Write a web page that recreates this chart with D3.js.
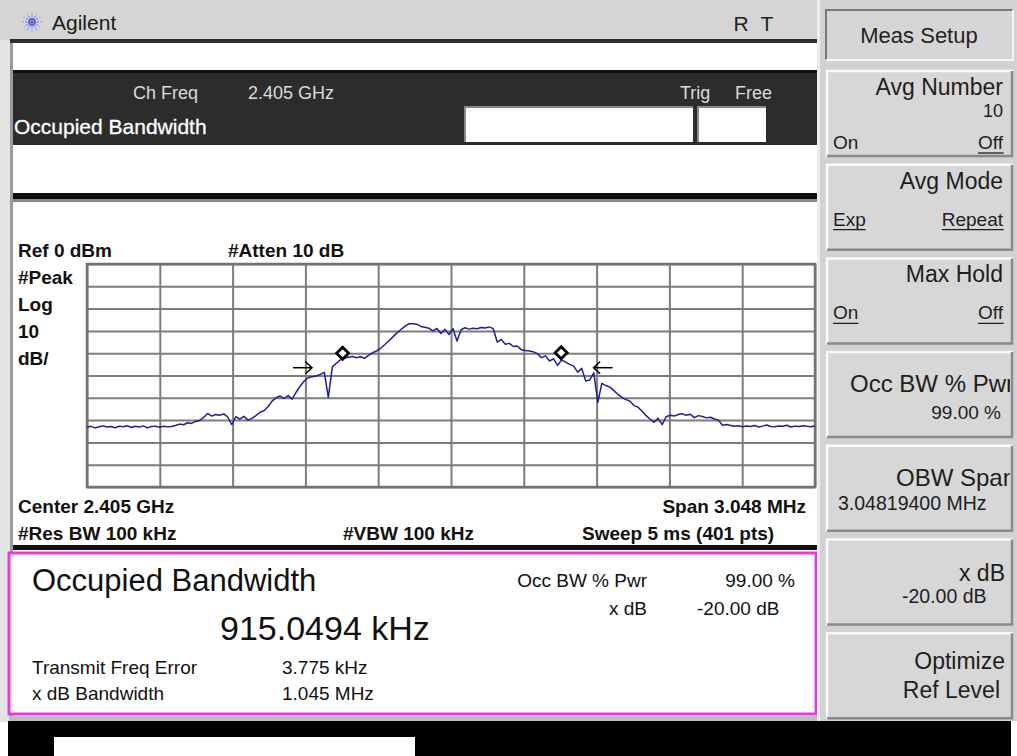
<!DOCTYPE html>
<html><head><meta charset="utf-8">
<script src="https://cdn.jsdelivr.net/npm/d3@7"></script>
<style>
html,body{margin:0;padding:0;background:#fff;overflow:hidden}
svg{display:block}
text{font-family:"Liberation Sans",Arial,sans-serif}
</style></head><body>
<svg id="c" width="1017" height="756"></svg>
<script>
// ---------------- data ----------------
const centerFreqGHz = 2.405;
const spanMHz = 3.048;
const refLevelDbm = 0;
const dbPerDiv = 10;
const numDivX = 10;
const numDivY = 10;

// trace (dBm), evenly spaced across the span
const traceDbm = [
 -73.2,-72.8,-73.5,-73.0,-72.6,-73.1,-72.9,-73.4,-72.7,-73.0,-72.5,-73.3,-72.8,-73.1,-72.6,-73.5,-72.9,-72.7,-73.2,-72.8,-73.0,
 -72.9,-72.4,-71.8,-72.1,-71.2,-71.5,-70.6,-70.2,-68.8,-67.0,-68.2,-67.5,-67.8,-67.2,-68.6,-72.0,-68.5,-69.6,-68.3,-70.0,
 -69.2,-68.0,-66.5,-65.8,-64.0,-61.5,-60.0,-59.2,-60.3,-59.0,-60.6,-57.5,-54.8,-52.5,-51.0,-50.6,-50.2,-49.5,-48.6,
 -59.8,-46.0,-44.5,-43.0,-42.2,-41.8,-41.5,-42.0,-41.6,-42.3,-41.0,-39.8,-39.0,-37.8,-36.2,-34.5,-32.8,-31.0,-29.5,-28.0,
 -26.8,-26.8,-27.0,-28.0,-28.4,-28.8,-30.0,-28.9,-31.2,-29.3,-31.6,-29.0,-34.5,-29.5,-28.6,-29.2,-28.8,-29.0,-28.5,-28.7,
 -28.2,-29.0,
 -35.0,-33.8,-36.0,-35.6,-37.0,-36.8,-38.5,-38.8,-39.0,-39.4,
 -40.2,-42.0,-41.2,-43.5,-42.5,-45.5,-43.0,-44.0,-45.0,-45.8,
 -48.5,-46.8,-52.5,-52.0,-48.8,-62.0,-53.5,-54.5,-55.2,-56.8,
 -58.5,-59.8,-60.8,-61.5,-63.5,-64.2,-66.0,-68.0,-69.5,-71.0,
 -69.2,-72.0,-68.5,-67.8,-68.2,-67.5,-67.2,-67.8,-67.4,-68.9,
 -68.0,-68.4,-69.0,-68.7,-69.5,-70.0,-72.3,-72.0,-72.4,
 -72.8,-72.5,-73.0,-72.6,-72.9,-72.4,-73.1,-72.7,-72.2,-72.9,-73.0,-72.6,-72.8,-72.3,-73.1,-72.7,-72.9,-72.5,-72.8,-73.0,-72.6
];

// OBW markers (diamonds) and x dB points (arrows), offsets from center in MHz
const obwMarkerFreqMHz = [-0.4537, 0.4613];
const obwMarkerDbm = [-40, -39.8];
const xdbArrowFreqMHz = [-0.582, 0.597];
const xdbArrowDbm = [-46.5, -46.5];

// annotation texts
const plotTopLabels = ["Ref 0 dBm", "#Atten 10 dB"];
const plotLeftLabels = ["#Peak", "Log", "10", "dB/"];
const plotBottomRow1 = ["Center 2.405 GHz", "Span 3.048 MHz"];
const plotBottomRow2 = ["#Res BW 100 kHz", "#VBW 100 kHz", "Sweep 5 ms (401 pts)"];

const headerRow1 = ["Ch Freq", "2.405 GHz", "Trig", "Free"];
const headerTitle = "Occupied Bandwidth";

const resultTitle = "Occupied Bandwidth";
const resultValue = "915.0494 kHz";
const resultParamNames = ["Occ BW % Pwr", "x dB"];
const resultParamValues = ["99.00 %", "-20.00 dB"];
const resultExtraNames = ["Transmit Freq Error", "x dB Bandwidth"];
const resultExtraValues = ["3.775 kHz", "1.045 MHz"];

const menuTitle = "Meas Setup";
const softkeyTitles = [["Avg Number"], ["Avg Mode"], ["Max Hold"], ["Occ BW % Pwr"], ["OBW Span"], ["x dB"], ["Optimize", "Ref Level"]];
const softkeyValues = ["10", "", "", "99.00 %", "3.04819400 MHz", "-20.00 dB", ""];
const softkeyLeft = ["On", "Exp", "On", "", "", "", ""];
const softkeyRight = ["Off", "Repeat", "Off", "", "", "", ""];
const softkeyLeftUnderlined = [false, true, true, false, false, false, false];
const softkeyRightUnderlined = [true, true, true, false, false, false, false];

// ---------------- drawing ----------------
const svg = d3.select("#c");

function txt(g, s, x, y, size, opts = {}) {
  return g.append("text").attr("x", x).attr("y", y).text(s)
    .attr("font-size", size)
    .attr("font-weight", opts.bold ? "bold" : "normal")
    .attr("fill", opts.fill || "#111")
    .attr("text-anchor", opts.anchor || "start");
}

// backgrounds
svg.append("rect").attr("width", 1017).attr("height", 756).attr("fill", "#ffffff");
svg.append("rect").attr("x", 0).attr("y", 0).attr("width", 11).attr("height", 722).attr("fill", "#e4e4e4");
svg.append("rect").attr("x", 10).attr("y", 40).attr("width", 3).attr("height", 680).attr("fill", "#9a9a9a");

// top title bar
svg.append("rect").attr("x", 0).attr("y", 0).attr("width", 820).attr("height", 40).attr("fill", "#d5d5d5");
svg.append("rect").attr("x", 10).attr("y", 39).attr("width", 810).attr("height", 4).attr("fill", "#2e2e2e");
const logo = svg.append("g").attr("transform", "translate(32,22)");
d3.range(12).forEach(k => {
  const a = k * Math.PI / 6;
  [3, 6, 9].forEach((r, j) => {
    logo.append("circle").attr("cx", r * Math.cos(a)).attr("cy", r * Math.sin(a))
      .attr("r", 1.3 - j * 0.25).attr("fill", j === 0 ? "#6a6ad8" : "#9a9ae8");
  });
});
logo.append("circle").attr("r", 1.6).attr("fill", "#5a5ad0");
txt(svg, "Agilent", 52, 30, 21, { fill: "#1a1a1a" });
txt(svg, "R", 741, 31, 21, { fill: "#222", anchor: "middle" });
txt(svg, "T", 767, 31, 21, { fill: "#222", anchor: "middle" });

// dark header band
svg.append("rect").attr("x", 13).attr("y", 71).attr("width", 806).attr("height", 74).attr("fill", "#2c2c2c");
svg.append("rect").attr("x", 13).attr("y", 70).attr("width", 806).attr("height", 3).attr("fill", "#111");
txt(svg, headerRow1[0], 198, 99, 18, { fill: "#dcdcdc", anchor: "end" });
txt(svg, headerRow1[1], 248, 99, 18, { fill: "#dcdcdc" });
txt(svg, headerRow1[2], 680, 99, 18, { fill: "#dcdcdc" });
txt(svg, headerRow1[3], 735, 99, 18, { fill: "#dcdcdc" });
txt(svg, headerTitle, 14, 134, 21, { fill: "#ffffff" }).attr("stroke", "#ffffff").attr("stroke-width", 0.3);
[[464, 229], [697, 69]].forEach(([bx, bw]) => {
  svg.append("rect").attr("x", bx).attr("y", 106).attr("width", bw).attr("height", 36).attr("fill", "#888");
  svg.append("rect").attr("x", bx + 2).attr("y", 108).attr("width", bw - 2).attr("height", 34).attr("fill", "#ffffff");
});

svg.append("rect").attr("x", 13).attr("y", 193).attr("width", 806).attr("height", 6).attr("fill", "#0c0c0c");
svg.append("rect").attr("x", 13).attr("y", 199).attr("width", 806).attr("height", 3).attr("fill", "#8a8a8a");

// ---- plot ----
const PL = 87, PR = 815, PT = 264, PB = 487;
const x = d3.scaleLinear().domain([-spanMHz / 2, spanMHz / 2]).range([PL, PR]);
const y = d3.scaleLinear().domain([refLevelDbm - dbPerDiv * numDivY, refLevelDbm]).range([PB, PT]);

const xTicks = d3.range(numDivX + 1).map(i => -spanMHz / 2 + i * spanMHz / numDivX);
const yTicks = d3.range(numDivY + 1).map(i => refLevelDbm - dbPerDiv * numDivY + i * dbPerDiv);

const gridX = svg.append("g").attr("transform", `translate(0,${PB})`)
  .call(d3.axisBottom(x).tickValues(xTicks).tickSize(-(PB - PT)).tickFormat(""));
const gridY = svg.append("g").attr("transform", `translate(${PL},0)`)
  .call(d3.axisLeft(y).tickValues(yTicks).tickSize(-(PR - PL)).tickFormat(""));
[gridX, gridY].forEach(g => {
  g.select(".domain").remove();
  g.selectAll(".tick line").attr("stroke", "#7c7c7c").attr("stroke-width", 2);
});
svg.append("rect").attr("x", PL).attr("y", PT).attr("width", PR - PL).attr("height", PB - PT)
  .attr("fill", "none").attr("stroke", "#727272").attr("stroke-width", 2.5);

const freqs = traceDbm.map((d, i) => -spanMHz / 2 + i * spanMHz / (traceDbm.length - 1));
svg.append("path").datum(traceDbm)
  .attr("d", d3.line().x((d, i) => x(freqs[i])).y(d => y(d)))
  .attr("fill", "none").attr("stroke", "#1f1f96").attr("stroke-width", 1.5).attr("stroke-linejoin", "round");

// diamonds
svg.selectAll(".mk").data(obwMarkerFreqMHz).enter().append("path")
  .attr("transform", (d, i) => `translate(${x(d)},${y(obwMarkerDbm[i])}) rotate(45)`)
  .attr("d", d3.symbol(d3.symbolSquare, 72))
  .attr("fill", "#fff").attr("stroke", "#000").attr("stroke-width", 2.8);

// arrows
xdbArrowFreqMHz.forEach((f, i) => {
  const tx = x(f), ty = y(xdbArrowDbm[i]);
  const dir = i === 0 ? -1 : 1;
  const g = svg.append("g").attr("stroke", "#000").attr("stroke-width", 1.5).attr("fill", "none");
  g.append("line").attr("x1", tx).attr("y1", ty).attr("x2", tx + dir * 19).attr("y2", ty);
  g.append("path").attr("d", `M${tx + dir * 6.5},${ty - 6} L${tx},${ty} L${tx + dir * 6.5},${ty + 6}`);
});

// plot labels
txt(svg, plotTopLabels[0], 18, 257, 19, { bold: true });
txt(svg, plotTopLabels[1], 228, 257, 19, { bold: true });
plotLeftLabels.forEach((s, i) => txt(svg, s, 18, 284 + i * 27, 19, { bold: true }));
txt(svg, plotBottomRow1[0], 18, 513, 19, { bold: true });
txt(svg, plotBottomRow1[1], 806, 513, 19, { bold: true, anchor: "end" });
txt(svg, plotBottomRow2[0], 18, 540, 19, { bold: true });
txt(svg, plotBottomRow2[1], 343, 540, 19, { bold: true });
txt(svg, plotBottomRow2[2], 582, 540, 19, { bold: true });

svg.append("rect").attr("x", 13).attr("y", 545).attr("width", 806).attr("height", 5).attr("fill", "#111");

// results box
svg.append("rect").attr("x", 9).attr("y", 553).attr("width", 807).attr("height", 161)
  .attr("fill", "#fff").attr("stroke", "#e23be2").attr("stroke-width", 3);
txt(svg, resultTitle, 32, 591, 31);
txt(svg, resultValue, 220, 640, 34);
txt(svg, resultParamNames[0], 647, 587, 19, { anchor: "end" });
txt(svg, resultParamValues[0], 795, 587, 19, { anchor: "end" });
txt(svg, resultParamNames[1], 647, 615, 19, { anchor: "end" });
txt(svg, resultParamValues[1], 697, 615, 19);
resultExtraNames.forEach((s, i) => {
  txt(svg, s, 32, 674 + i * 26, 19);
  txt(svg, resultExtraValues[i], 282, 674 + i * 26, 19);
});

// bottom status area
svg.append("rect").attr("x", 9).attr("y", 716).attr("width", 810).attr("height", 5).attr("fill", "#bdbdbd");
svg.append("rect").attr("x", 8).attr("y", 721).attr("width", 1003).attr("height", 35).attr("fill", "#000");
svg.append("rect").attr("x", 54).attr("y", 737).attr("width", 361).attr("height", 19).attr("fill", "#fff");

// ---- softkey panel ----
svg.append("rect").attr("x", 819).attr("y", 0).attr("width", 198).attr("height", 721).attr("fill", "#d2d2d2");
svg.append("rect").attr("x", 817).attr("y", 0).attr("width", 3).attr("height", 721).attr("fill", "#ededed");
svg.append("rect").attr("x", 1011).attr("y", 721).attr("width", 6).attr("height", 35).attr("fill", "#fff");

svg.append("rect").attr("x", 826).attr("y", 10).attr("width", 187).attr("height", 50).attr("fill", "#d6d6d6");
svg.append("path").attr("d", "M826,60 L826,10 L1013,10").attr("fill", "none").attr("stroke", "#7a7a7a").attr("stroke-width", 2);
svg.append("path").attr("d", "M826,60 L1013,60 L1013,10").attr("fill", "none").attr("stroke", "#f4f4f4").attr("stroke-width", 2);
txt(svg, menuTitle, 919, 43, 22, { fill: "#222", anchor: "middle" });

const defs = svg.append("defs");
const keyTop = k => 70 + k * 93.7;
const KH = 87, KX = 826, KW = 187;
softkeyTitles.forEach((lines, k) => {
  const t = keyTop(k);
  defs.append("clipPath").attr("id", "kc" + k).append("rect").attr("x", KX + 2).attr("y", t).attr("width", KW - 5).attr("height", KH);
  const g = svg.append("g");
  g.append("rect").attr("x", KX).attr("y", t).attr("width", KW).attr("height", KH).attr("fill", "#d7d7d7");
  g.append("path").attr("d", `M${KX + 1},${t + KH} L${KX + 1},${t + 1} L${KX + KW},${t + 1}`).attr("fill", "none").attr("stroke", "#fbfbfb").attr("stroke-width", 2.5);
  g.append("path").attr("d", `M${KX + 1},${t + KH - 1} L${KX + KW - 1},${t + KH - 1} L${KX + KW - 1},${t + 1}`).attr("fill", "none").attr("stroke", "#8a8a8a").attr("stroke-width", 2.5);
  const c = g.append("g").attr("clip-path", `url(#kc${k})`);
  const hasOnOff = softkeyLeft[k] || softkeyRight[k];
  if (hasOnOff) {
    txt(c, lines[0], 1003, t + 25, 23, { fill: "#1e1e1e", anchor: "end" });
    if (softkeyValues[k]) txt(c, softkeyValues[k], 1003, t + 47, 18, { fill: "#1e1e1e", anchor: "end" });
    const ly = softkeyValues[k] ? t + 79 : t + 62;
    const lt = txt(c, softkeyLeft[k], 833, ly, 19, { fill: "#1e1e1e" });
    const rt = txt(c, softkeyRight[k], 1003, ly, 19, { fill: "#1e1e1e", anchor: "end" });
    [[lt, softkeyLeftUnderlined[k]], [rt, softkeyRightUnderlined[k]]].forEach(([el, u]) => {
      if (!u) return;
      const b = el.node().getBBox();
      c.append("line").attr("x1", b.x).attr("x2", b.x + b.width).attr("y1", ly + 4).attr("y2", ly + 4)
        .attr("stroke", "#1e1e1e").attr("stroke-width", 1.3);
    });
  } else if (lines.length === 2) {
    txt(c, lines[0], 1005, t + 37, 23, { fill: "#1e1e1e", anchor: "end" });
    txt(c, lines[1], 1000, t + 66, 23, { fill: "#1e1e1e", anchor: "end" });
  } else {
    const clipped = k === 3 || k === 4;
    if (clipped) txt(c, lines[0], k === 3 ? 850 : 896, t + 41, 24, { fill: "#1e1e1e" });
    else txt(c, lines[0], 1005, t + 42, 23, { fill: "#1e1e1e", anchor: "end" });
    const v = softkeyValues[k];
    if (k === 3) txt(c, v, 1001, t + 68, 19, { fill: "#1e1e1e", anchor: "end" });
    else if (k === 4) txt(c, v, 838, t + 65, 19.5, { fill: "#1e1e1e" });
    else txt(c, v, 902, t + 64, 19.5, { fill: "#1e1e1e" });
  }
});
</script>
</body></html>
